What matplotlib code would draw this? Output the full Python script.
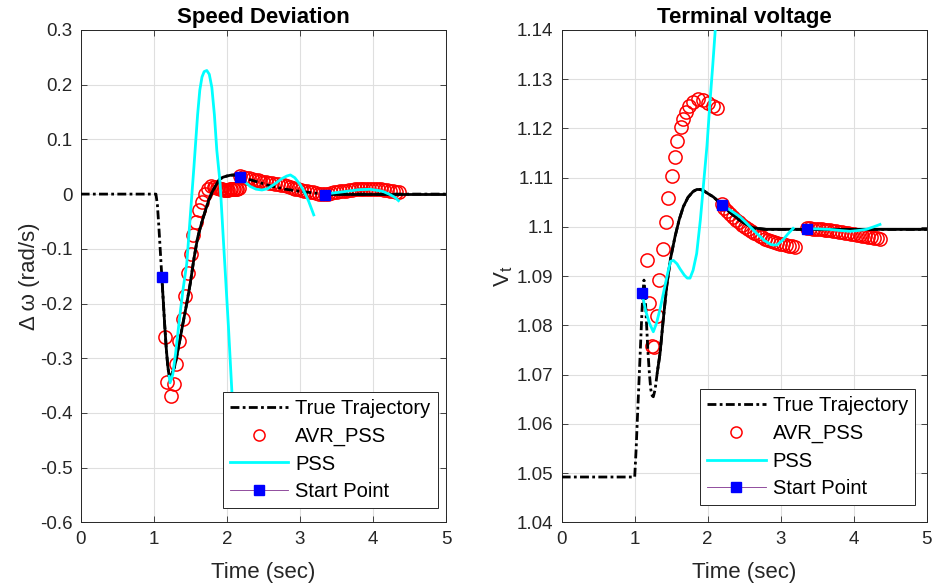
import matplotlib
matplotlib.use("Agg")
import matplotlib.pyplot as plt
import numpy as np
from matplotlib.lines import Line2D

plt.rcParams['font.family'] = ['Liberation Sans', 'DejaVu Sans']

# ---------------- Speed deviation (left) ----------------
t_true_w = [0, 1.0, 1.03, 1.05, 1.07, 1.09, 1.11, 1.13, 1.15, 1.17, 1.19, 1.21, 1.23, 1.25,
            1.28, 1.31, 1.35, 1.40, 1.45, 1.50, 1.55, 1.60, 1.65, 1.70, 1.75, 1.80, 1.85,
            1.90, 1.95, 2.00, 2.05, 2.10, 2.18, 2.30, 2.45, 2.60, 2.80, 3.00, 3.20, 3.35,
            3.60, 4.00, 5.00]
w_true = [0, 0, 0, -0.02, -0.06, -0.105, -0.15, -0.195, -0.24, -0.28, -0.312, -0.333, -0.334,
          -0.328, -0.318, -0.30, -0.272, -0.236, -0.201, -0.163, -0.118, -0.080, -0.055,
          -0.033, -0.012, 0.004, 0.016, 0.027, 0.031, 0.033, 0.0345, 0.035, 0.032, 0.027,
          0.021, 0.015, 0.009, 0.005, 0.002, 0.0, 0, 0, 0]

t_avr_w = [1.154, 1.177, 1.232, 1.278, 1.305, 1.35, 1.406, 1.433, 1.474, 1.506, 1.543, 1.579,
           1.62, 1.657, 1.702, 1.748, 1.79, 1.82, 1.84, 1.86, 1.88, 1.90, 1.92, 1.94, 1.96,
           1.98, 2.00, 2.02, 2.04, 2.06, 2.08, 2.10, 2.12, 2.14, 2.16,
           2.18, 2.22, 2.26, 2.30, 2.34, 2.38, 2.42, 2.46, 2.50, 2.54, 2.58, 2.62, 2.66, 2.70,
           2.74, 2.78, 2.82, 2.86, 2.90, 2.94, 2.98, 3.02, 3.06, 3.10, 3.14, 3.18, 3.22, 3.26,
           3.30,
           3.35, 3.39, 3.43, 3.47, 3.51, 3.55, 3.59, 3.63, 3.67, 3.71, 3.75, 3.79, 3.83, 3.87,
           3.91, 3.95, 3.99, 4.03, 4.07, 4.11, 4.15, 4.19, 4.23, 4.27, 4.31, 4.35]
w_avr = [-0.262, -0.344, -0.369, -0.348, -0.31, -0.269, -0.228, -0.187, -0.145, -0.109, -0.075,
         -0.051, -0.029, -0.014, 0.001, 0.010, 0.0146, 0.0135, 0.013, 0.012, 0.011, 0.010,
         0.009, 0.0085, 0.008, 0.008, 0.008, 0.008, 0.0085, 0.009, 0.009, 0.0095, 0.010,
         0.010, 0.011,
         0.034, 0.032, 0.030, 0.029, 0.027, 0.026, 0.025, 0.024, 0.023, 0.022, 0.021, 0.020,
         0.019, 0.018, 0.017, 0.016, 0.014, 0.013, 0.012, 0.010, 0.009, 0.008, 0.006, 0.005,
         0.004, 0.003, 0.002, 0.001, 0.001,
         0.000, 0.001, 0.002, 0.003, 0.004, 0.005, 0.006, 0.0065, 0.007, 0.008, 0.0085, 0.009,
         0.0095, 0.010, 0.010, 0.010, 0.010, 0.0095, 0.009, 0.0085, 0.008, 0.007, 0.006,
         0.005, 0.0045, 0.004]

t_pss_w1 = [1.21, 1.223, 1.26, 1.30, 1.35, 1.40, 1.452, 1.50, 1.55, 1.566, 1.60, 1.63, 1.66,
            1.69, 1.726, 1.76, 1.795, 1.83, 1.863, 1.908, 1.96, 2.022, 2.068, 2.15]
w_pss1 = [-0.333, -0.345, -0.33, -0.29, -0.23, -0.175, -0.1265, -0.04, 0.05, 0.0806, 0.145,
          0.19, 0.214, 0.224, 0.226, 0.219, 0.195, 0.145, 0.08, 0.02, -0.10, -0.242, -0.358,
          -0.55]
t_pss_w2 = [2.18, 2.25, 2.32, 2.40, 2.48, 2.56, 2.65, 2.75, 2.82, 2.87, 2.93, 3.00, 3.05,
            3.12, 3.19]
w_pss2 = [0.032, 0.022, 0.014, 0.009, 0.0075, 0.010, 0.018, 0.028, 0.033, 0.035, 0.030,
          0.018, 0.007, -0.013, -0.038]
t_pss_w3 = [3.35, 3.45, 3.60, 3.80, 3.96, 4.10, 4.145, 4.22, 4.30, 4.35]
w_pss3 = [0.0, 0.002, 0.0044, 0.008, 0.0088, 0.006, 0.0044, 0.0, -0.006, -0.012]

t_start_w = [1.11, 2.18, 3.35]
w_start = [-0.151, 0.032, -0.001]

# ---------------- Terminal voltage (right) ----------------
t_true_v = [0, 1.0, 1.02, 1.036, 1.06, 1.08, 1.10, 1.115, 1.127, 1.14, 1.16, 1.18, 1.20, 1.22,
            1.24, 1.255, 1.28, 1.31, 1.347, 1.39, 1.438, 1.49, 1.552, 1.61, 1.666, 1.73, 1.80,
            1.85, 1.90, 1.95, 2.00, 2.077, 2.168, 2.30, 2.45, 2.62, 2.80, 3.00, 5.00]
v_true = [1.0492, 1.0492, 1.055, 1.0608, 1.069, 1.076, 1.083, 1.087, 1.0892, 1.087, 1.081,
          1.075, 1.0705, 1.067, 1.0657, 1.0655, 1.067, 1.0705, 1.0743, 1.081, 1.0879, 1.0935,
          1.098, 1.1015, 1.1041, 1.106, 1.1072, 1.1076, 1.1076, 1.1073, 1.1068, 1.1061,
          1.1049, 1.1030, 1.1012, 1.0998, 1.0995, 1.0995, 1.0995]

t_avr_v = [1.164, 1.20, 1.235, 1.26, 1.31, 1.337, 1.39, 1.429, 1.46, 1.507, 1.552, 1.584, 1.63,
           1.666, 1.70, 1.748, 1.80, 1.867, 1.94, 2.01, 2.077, 2.123,
           2.19, 2.23, 2.27, 2.31, 2.35, 2.39, 2.43, 2.47, 2.51, 2.55, 2.59, 2.63, 2.67, 2.71,
           2.75, 2.79, 2.83, 2.87, 2.91, 2.95, 2.99, 3.03, 3.07, 3.11, 3.15, 3.19,
           3.36, 3.40, 3.44, 3.48, 3.52, 3.56, 3.60, 3.64, 3.68, 3.72, 3.76, 3.80, 3.84, 3.88,
           3.92, 3.96, 4.00, 4.04, 4.08, 4.12, 4.16, 4.20, 4.24, 4.28, 4.32, 4.36]
v_avr = [1.0933, 1.0846, 1.0758, 1.0756, 1.0819, 1.0892, 1.0956, 1.1011, 1.1058, 1.1103,
         1.1143, 1.1175, 1.1202, 1.1220, 1.1234, 1.1246, 1.1254, 1.1259, 1.1258, 1.1252,
         1.1246, 1.1241,
         1.1047, 1.1039, 1.1032, 1.1026, 1.1020, 1.1014, 1.1009, 1.1004, 1.1000, 1.0996,
         1.0992, 1.0988, 1.0985, 1.0982, 1.0979, 1.0976, 1.0974, 1.0972, 1.0970, 1.0968,
         1.0966, 1.0965, 1.0963, 1.0962, 1.0961, 1.0960,
         1.0997, 1.0997, 1.0996, 1.0996, 1.0995, 1.0995, 1.0994, 1.0993, 1.0993, 1.0992,
         1.0991, 1.0990, 1.0989, 1.0988, 1.0987, 1.0986, 1.0985, 1.0984, 1.0983, 1.0982,
         1.0981, 1.0980, 1.0979, 1.0978, 1.0977, 1.0976]

t_pss_v1 = [1.10, 1.15, 1.20, 1.255, 1.30, 1.35, 1.40, 1.45, 1.49, 1.53, 1.58, 1.62, 1.68,
            1.72, 1.758, 1.80, 1.849, 1.90, 1.94, 1.99, 2.03, 2.07, 2.10, 2.13]
v_pss1 = [1.0865, 1.083, 1.0805, 1.0787, 1.0805, 1.0835, 1.087, 1.0905, 1.093, 1.0932,
          1.0925, 1.0915, 1.0902, 1.0896, 1.0896, 1.0912, 1.0946, 1.1015, 1.1082, 1.1165,
          1.1251, 1.133, 1.1393, 1.146]
t_pss_v2 = [2.19, 2.30, 2.44, 2.55, 2.67, 2.78, 2.87, 2.945, 3.02, 3.10, 3.17]
v_pss2 = [1.1045, 1.1035, 1.1021, 1.1005, 1.0987, 1.0972, 1.0964, 1.0963, 1.0972, 1.0986,
          1.0997]
t_pss_v3 = [3.36, 3.50, 3.67, 3.80, 3.95, 4.08, 4.17, 4.27, 4.36]
v_pss3 = [1.0996, 1.0996, 1.0995, 1.0993, 1.0991, 1.0993, 1.0995, 1.1000, 1.1005]

t_start_v = [1.10, 2.19, 3.36]
v_start = [1.0865, 1.1045, 1.0996]

# solid overlays of the black trajectory (visible solid parts)
solid_w = [(1.11, 2.18), (3.35, 5.0)]
solid_v = [(1.30, 5.0)]

x_ticks = [0, 1, 2, 3, 4, 5]
w_ticks = [0.3, 0.2, 0.1, 0, -0.1, -0.2, -0.3, -0.4, -0.5, -0.6]
w_tick_labels = ['0.3', '0.2', '0.1', '0', '-0.1', '-0.2', '-0.3', '-0.4', '-0.5', '-0.6']
v_ticks = [1.04, 1.05, 1.06, 1.07, 1.08, 1.09, 1.10, 1.11, 1.12, 1.13, 1.14]
v_tick_labels = ['1.04', '1.05', '1.06', '1.07', '1.08', '1.09', '1.1', '1.11', '1.12', '1.13', '1.14']

legend_labels = ['True Trajectory', 'AVR_PSS', 'PSS', 'Start Point']

# ---------------- Drawing ----------------
W, H = 933, 588
fig = plt.figure(figsize=(W / 100, H / 100), dpi=100)
axL = fig.add_axes([80.7 / W, 1 - 522.3 / H, 365.3 / W, 492.3 / H])
axR = fig.add_axes([561.7 / W, 1 - 522.3 / H, 365.0 / W, 492.3 / H])

CYAN = '#00FFFF'
DASH = (3.2, 1.2, 1.0, 1.2)
TXT = '#262626'


def draw(ax, t_true, y_true, t_avr, y_avr, pss_segs, t_st, y_st, solids):
    t_true = np.asarray(t_true)
    y_true = np.asarray(y_true)
    ax.plot(t_avr, y_avr, linestyle='none', marker='o', markersize=9.5,
            markerfacecolor='none', markeredgecolor='red', markeredgewidth=1.1, zorder=2)
    ax.plot(t_true, y_true, color='black', linewidth=2.0, dashes=DASH, zorder=3)
    for a, b in solids:
        m = (t_true >= a - 1e-9) & (t_true <= b + 1e-9)
        ax.plot(t_true[m], y_true[m], color='black', linewidth=2.0, zorder=3)
    for ts, ys in pss_segs:
        ax.plot(ts, ys, color=CYAN, linewidth=2.0, zorder=4)
    for tt, yy in zip(t_st, y_st):
        ax.plot([tt], [yy], color='#7E2F8E', linewidth=0.6, marker='s', markersize=7.5,
                markerfacecolor='blue', markeredgecolor='blue', zorder=5)
    handles = [
        Line2D([], [], color='black', linewidth=2.0, dashes=DASH),
        Line2D([], [], linestyle='none', marker='o', markersize=8, markerfacecolor='none',
               markeredgecolor='red', markeredgewidth=1.1),
        Line2D([], [], color=CYAN, linewidth=2.0),
        Line2D([], [], color='#7E2F8E', linewidth=0.6, marker='s', markersize=7,
               markerfacecolor='blue', markeredgecolor='blue'),
    ]
    return handles


hL = draw(axL, t_true_w, w_true, t_avr_w, w_avr,
          [(t_pss_w1, w_pss1), (t_pss_w2, w_pss2), (t_pss_w3, w_pss3)],
          t_start_w, w_start, solid_w)
hR = draw(axR, t_true_v, v_true, t_avr_v, v_avr,
          [(t_pss_v1, v_pss1), (t_pss_v2, v_pss2), (t_pss_v3, v_pss3)],
          t_start_v, v_start, solid_v)

for ax, yt, ylab, ylim in [(axL, w_ticks, w_tick_labels, (-0.6, 0.3)),
                           (axR, v_ticks, v_tick_labels, (1.04, 1.14))]:
    ax.set_xlim(0, 5)
    ax.set_ylim(*ylim)
    ax.set_xticks(x_ticks)
    ax.set_xticklabels([str(v) for v in x_ticks])
    ax.set_yticks(yt)
    ax.set_yticklabels(ylab)
    ax.grid(True, color='#dfdfdf', linewidth=0.8)
    ax.set_axisbelow(True)
    ax.tick_params(direction='in', length=4, width=0.6, colors='#262626', labelsize=13.5,
                   top=True, right=True, labelcolor=TXT, pad=6)
    for s in ax.spines.values():
        s.set_color('#262626')
        s.set_linewidth(0.7)
    ax.set_xlabel('Time (sec)', fontsize=16, color=TXT, labelpad=10)

axL.set_ylabel('Δ ω (rad/s)', fontsize=16, color=TXT)
axL.yaxis.set_label_coords(-0.112, 0.5)
axR.set_ylabel('V$_\\mathregular{t}$', fontsize=16, color=TXT)
axR.yaxis.set_label_coords(-0.128, 0.5)
axL.set_title('Speed Deviation', fontsize=16, fontweight='bold', color='black', pad=5)
axR.set_title('Terminal voltage', fontsize=16, fontweight='bold', color='black', pad=5)

for ax, h, anchor in [(axL, hL, (0.977, 0.029)), (axR, hR, (0.968, 0.035))]:
    leg = ax.legend(h, legend_labels, loc='lower right', bbox_to_anchor=anchor,
                    fontsize=14.5, frameon=True, fancybox=False, framealpha=1,
                    edgecolor='#262626', handlelength=2.9, handletextpad=0.35,
                    labelspacing=0.42, borderpad=0.35, borderaxespad=0)
    leg.get_frame().set_linewidth(0.7)
    leg.set_zorder(10)

fig.savefig('out.png', dpi=100)
